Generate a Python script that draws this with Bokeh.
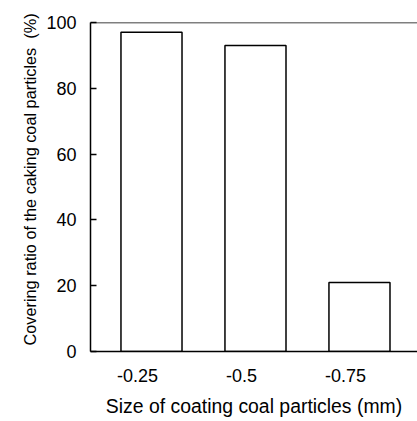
from bokeh.plotting import figure
from bokeh.models import Range1d, LinearAxis, FixedTicker, Span, Title, ColumnDataSource
from bokeh.embed import file_html
from bokeh.resources import INLINE

# data
categories = ["-0.25", "-0.5", "-0.75"]
covering_ratio = [97, 93, 21]
y_ticks = [0, 20, 40, 60, 80, 100]

x_label = "Size of coating coal particles (mm)"
y_label = "Covering ratio of the caking coal particles\u00a0 (%)"

FONT = "Liberation Sans"
idx = list(range(len(categories)))
src = ColumnDataSource(dict(x=idx, top=covering_ratio))

p = figure(width=417, height=421, output_backend="svg", toolbar_location=None,
           x_range=Range1d(-0.5865, 2.558), y_range=Range1d(0, 100),
           x_axis_location=None, y_axis_location="left",
           min_border_left=90, min_border_right=0, min_border_top=22, min_border_bottom=70)
p.outline_line_color = None
p.grid.grid_line_color = None
p.background_fill_color = "white"
p.border_fill_color = "white"

p.vbar(x="x", top="top", bottom=0, width=0.587, source=src,
       fill_color="white", line_color="black", line_width=1.5)

# top frame line
p.add_layout(Span(location=100, dimension="width", line_color="black", line_width=1.5))

# y axis
ya = p.yaxis[0]
ya.ticker = FixedTicker(ticks=y_ticks)
ya.major_tick_in = 6
ya.major_tick_out = 0
ya.minor_tick_line_color = None
ya.axis_line_width = 1.5
ya.major_tick_line_width = 1.5
ya.axis_line_color = "black"
ya.major_label_text_font = FONT
ya.major_label_text_font_size = "18px"
ya.major_label_text_color = "black"
ya.major_label_standoff = 14

# x axis with labels offset slightly left of the bars
p.extra_x_ranges = {"lab": Range1d(-0.4515, 2.693)}
xa = LinearAxis(x_range_name="lab", ticker=FixedTicker(ticks=idx),
                major_label_overrides={i: c for i, c in zip(idx, categories)})
xa.major_tick_in = 0
xa.major_tick_out = 0
xa.minor_tick_line_color = None
xa.axis_line_width = 1.5
xa.axis_line_color = "black"
xa.major_label_text_font = FONT
xa.major_label_text_font_size = "18px"
xa.major_label_text_color = "black"
xa.major_label_standoff = 17
p.add_layout(xa, "below")

# second (invisible) axis carrying the x title
xt = LinearAxis(ticker=FixedTicker(ticks=[]), axis_label=x_label)
xt.axis_line_color = None
xt.major_tick_in = 0
xt.major_tick_out = 0
xt.minor_tick_line_color = None
xt.major_label_standoff = 0
xt.axis_label_standoff = 10
xt.axis_label_text_font = FONT
xt.axis_label_text_font_size = "19.4px"
xt.axis_label_text_font_style = "normal"
xt.axis_label_text_color = "black"
p.add_layout(xt, "below")

p.add_layout(Title(text=y_label, align="left", offset=6, standoff=10,
                   text_font=FONT, text_font_size="16.3px", text_font_style="normal",
                   text_color="black"), "left")

open("out.html", "w").write(file_html(p, INLINE))
